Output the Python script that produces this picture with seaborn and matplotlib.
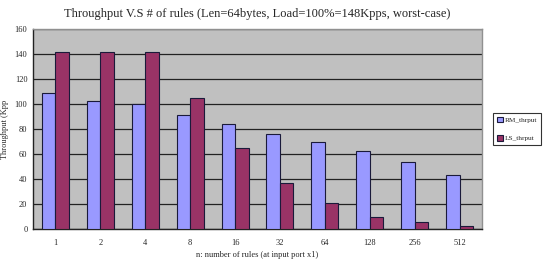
import seaborn as sns
import matplotlib.pyplot as plt
import pandas as pd
import numpy as np

# values
rules = ["1", "2", "4", "8", "16", "32", "64", "128", "256", "512"]
rm_thrput = [108.5, 102.5, 100, 91, 84, 76, 69.5, 62.5, 53.5, 43]
ls_thrput = [141.5, 141.5, 141.5, 105, 64.5, 36.5, 20.5, 9.5, 6, 2.5]

df = pd.DataFrame({
    "rules": rules * 2,
    "thrput": rm_thrput + ls_thrput,
    "series": ["RM_thrput"] * len(rules) + ["LS_thrput"] * len(rules),
})

sns.set_style("white")
plt.rcParams["font.family"] = ["Liberation Serif", "DejaVu Serif"]

fig = plt.figure(figsize=(5.47, 2.7), dpi=100)
ax = fig.add_axes([33 / 547, 41 / 270, 449 / 547, 200 / 270])
ax.set_facecolor("#C0C0C0")

sns.barplot(data=df, x="rules", y="thrput", hue="series", order=rules,
            palette={"RM_thrput": "#9999FF", "LS_thrput": "#993366"},
            width=0.6, gap=0, edgecolor="#1a1a3a", linewidth=0.8,
            saturation=1, ax=ax, zorder=3)

ax.set_ylim(0, 160)
ax.set_yticks(np.arange(0, 161, 20))
ax.set_xlim(-0.5, len(rules) - 0.5)
ax.yaxis.grid(True, color="#222222", linewidth=0.9, zorder=0)
ax.set_axisbelow(True)

ax.tick_params(axis="y", labelsize=6, length=3, direction="out", pad=1)
ax.tick_params(axis="x", which="major", labelsize=6, length=0, pad=7)
ax.set_xticks(np.arange(-0.5, len(rules), 1), minor=True)
ax.tick_params(axis="x", which="minor", length=2.5, direction="in", color="#222222")

for s in ["left", "bottom"]:
    ax.spines[s].set_color("#222222")
    ax.spines[s].set_linewidth(1)
for s in ["top", "right"]:
    ax.spines[s].set_color("#909090")
    ax.spines[s].set_linewidth(1)

ax.set_xlabel("n: number of rules (at input port x1)", fontsize=6, labelpad=3)
ax.set_ylabel("Throughput (Kpp", fontsize=6, labelpad=4)
ax.set_title("Throughput V.S # of rules (Len=64bytes, Load=100%=148Kpps, worst-case)",
             fontsize=9, pad=9)

leg = ax.legend(loc="center left", bbox_to_anchor=(1.024, 0.5), fontsize=5.2,
                frameon=True, fancybox=False, edgecolor="black",
                handlelength=0.8, handleheight=0.8, handletextpad=0.3,
                borderpad=0.55, borderaxespad=0, labelspacing=1.7)
leg.get_frame().set_linewidth(0.8)

fig.savefig("out.png", dpi=100)
